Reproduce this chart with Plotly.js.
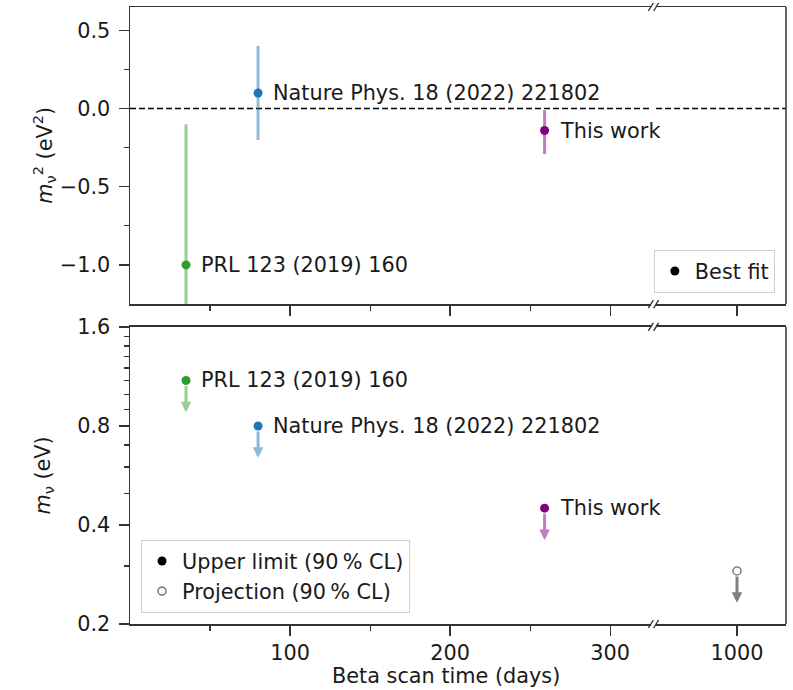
<!DOCTYPE html>
<html>
<head>
<meta charset="utf-8">
<script src="https://cdn.plot.ly/plotly-3.0.1.min.js"></script>
<style>html,body{margin:0;padding:0;background:#fff;}#chart{width:793px;height:690px;}</style>
</head>
<body>
<div id="chart"></div>
<script>
// ---- data ----
const labels = ['PRL 123 (2019) 160', 'Nature Phys. 18 (2022) 221802', 'This work'];
const scanDays = [35, 80, 259];
const colors = ['#2ca02c', '#1f77b4', '#800080'];
const barColors = ['rgba(44,160,44,0.5)', 'rgba(31,119,180,0.5)', 'rgba(128,0,128,0.5)'];
const m2Best = [-1.0, 0.1, -0.14];
const m2ErrUp = [0.9, 0.3, 0.13];
const m2ErrDown = [1.1, 0.3, 0.15];
const mLimit = [1.1, 0.8, 0.45];
const projDays = [1000];
const projLimit = [0.29];
const limitArrowRatio = 0.8;

const xMajor = [100, 200, 300];
const xMinor = [50, 150, 250];
const xBreakTicks = [1000];
const m2Ticks = [-1.0, -0.5, 0.0, 0.5];
const m2TickText = ['\u22121.0', '\u22120.5', '0.0', '0.5'];
const m2Minor = [-0.75, -0.25, 0.25];
const mTicks = [0.2, 0.4, 0.8, 1.6];
const mTickText = ['0.2', '0.4', '0.8', '1.6'];
const mMinor = [0.3, 0.5, 0.6, 0.7, 0.9, 1.0, 1.1, 1.2, 1.3, 1.4, 1.5];

// ---- style ----
const FONT = 'DejaVu Sans, sans-serif';
const TXT = '#1a1a1a';
const SPINE = '#333';
const FS = 20.8;

const traces = [];
for (let i = 0; i < labels.length; i++) {
  traces.push({
    type: 'scatter', mode: 'markers', x: [scanDays[i]], y: [m2Best[i]],
    xaxis: 'x', yaxis: 'y', showlegend: false, hoverinfo: 'skip',
    marker: {color: colors[i], size: 9},
    error_y: {type: 'data', symmetric: false, array: [m2ErrUp[i]], arrayminus: [m2ErrDown[i]],
              color: barColors[i], thickness: 3, width: 0}
  });
  traces.push({
    type: 'scatter', mode: 'markers', x: [scanDays[i]], y: [mLimit[i]],
    xaxis: 'x3', yaxis: 'y2', showlegend: false, hoverinfo: 'skip',
    marker: {color: colors[i], size: 9}
  });
}
traces.push({
  type: 'scatter', mode: 'markers', x: projDays, y: projLimit,
  xaxis: 'x4', yaxis: 'y2', showlegend: false, hoverinfo: 'skip',
  marker: {color: '#ffffff', size: 8, symbol: 'circle', line: {color: '#808080', width: 1.6}}
});
// empty trace so the top-right (break) segment of the upper panel exists as a subplot
traces.push({type: 'scatter', mode: 'markers', x: [null], y: [null], xaxis: 'x2', yaxis: 'y',
  showlegend: false, hoverinfo: 'skip'});
// legend entries
traces.push({type: 'scatter', mode: 'markers', x: [null], y: [null], xaxis: 'x', yaxis: 'y',
  name: 'Best fit', legend: 'legend', marker: {color: '#000', size: 9}});
traces.push({type: 'scatter', mode: 'markers', x: [null], y: [null], xaxis: 'x3', yaxis: 'y2',
  name: 'Upper limit (90\u2009% CL)', legend: 'legend2', marker: {color: '#000', size: 9}});
traces.push({type: 'scatter', mode: 'markers', x: [null], y: [null], xaxis: 'x3', yaxis: 'y2',
  name: 'Projection (90\u2009% CL)', legend: 'legend2',
  marker: {color: '#fff', size: 8, line: {color: '#808080', width: 1.6}}});

const annotations = [];
for (let i = 0; i < labels.length; i++) {
  annotations.push({xref: 'x', yref: 'y', x: scanDays[i], y: m2Best[i], text: labels[i],
    showarrow: false, xanchor: 'left', yanchor: 'middle', xshift: 13,
    font: {family: FONT, size: FS, color: TXT}});
  annotations.push({xref: 'x3', yref: 'y2', x: scanDays[i], y: Math.log10(mLimit[i]), text: labels[i],
    showarrow: false, xanchor: 'left', yanchor: 'middle', xshift: 13,
    font: {family: FONT, size: FS, color: TXT}});
  annotations.push({xref: 'x3', yref: 'y2', x: scanDays[i], y: Math.log10(mLimit[i] * limitArrowRatio),
    axref: 'x3', ayref: 'y2', ax: scanDays[i], ay: Math.log10(mLimit[i]), text: '',
    showarrow: true, arrowhead: 2, arrowsize: 0.7, arrowwidth: 3, arrowcolor: barColors[i],
    startstandoff: 4});
}
for (let j = 0; j < projDays.length; j++) {
  annotations.push({xref: 'x4', yref: 'y2', x: projDays[j], y: Math.log10(projLimit[j] * limitArrowRatio),
    axref: 'x4', ayref: 'y2', ax: projDays[j], ay: Math.log10(projLimit[j]), text: '',
    showarrow: true, arrowhead: 2, arrowsize: 0.7, arrowwidth: 3, arrowcolor: '#808080',
    startstandoff: 4});
}
// axis titles
annotations.push({xref: 'paper', yref: 'paper', x: 0.4817, y: -0.084, xanchor: 'center', yanchor: 'middle',
  showarrow: false, text: 'Beta scan time (days)', font: {family: FONT, size: FS, color: TXT}});
annotations.push({xref: 'paper', yref: 'paper', x: -0.131, y: 0.759, xanchor: 'center', yanchor: 'middle',
  showarrow: false, textangle: -90, text: '<i>m</i><sub>\u03bd</sub><sup>2</sup> (eV<sup>2</sup>)',
  font: {family: FONT, size: FS, color: TXT}});
annotations.push({xref: 'paper', yref: 'paper', x: -0.131, y: 0.2407, xanchor: 'center', yanchor: 'middle',
  showarrow: false, textangle: -90, text: '<i>m</i><sub>\u03bd</sub> (eV)',
  font: {family: FONT, size: FS, color: TXT}});

const shapes = [];
shapes.push({type: 'line', xref: 'x domain', yref: 'y', x0: 0, x1: 1, y0: 0, y1: 0,
  line: {color: '#000', width: 1.5, dash: '6px,3px'}, layer: 'below'});
shapes.push({type: 'line', xref: 'x2 domain', yref: 'y', x0: 0, x1: 1, y0: 0, y1: 0,
  line: {color: '#000', width: 1.5, dash: '6px,3px'}, layer: 'below'});
// right borders
shapes.push({type: 'line', xref: 'paper', yref: 'y domain', x0: 1, x1: 1, y0: 0, y1: 1,
  line: {color: SPINE, width: 1.5}});
shapes.push({type: 'line', xref: 'paper', yref: 'y2 domain', x0: 1, x1: 1, y0: 0, y1: 1,
  line: {color: SPINE, width: 1.5}});
// break marks
const breakX = [0.794, 0.802];
const breakY = [['y domain', 0], ['y domain', 1], ['y2 domain', 0], ['y2 domain', 1]];
breakX.forEach(bx => breakY.forEach(([yr, by]) => {
  shapes.push({type: 'line', xref: 'paper', yref: yr, xsizemode: 'pixel', ysizemode: 'pixel',
    xanchor: bx, yanchor: by, x0: -2.5, x1: 2.5, y0: -4, y1: 4,
    line: {color: SPINE, width: 1.4}});
}));

const tickFont = {family: FONT, size: FS, color: TXT};
function xAxis(dom, anchor, range, vals, minorVals, showLabels) {
  const ax = {domain: dom, anchor: anchor, range: range, tickmode: 'array', tickvals: vals,
    showticklabels: showLabels, ticks: 'outside', ticklen: 10, tickwidth: 1.3, tickcolor: SPINE,
    showline: true, mirror: true, linecolor: SPINE, linewidth: 1.5, showgrid: false, zeroline: false,
    tickfont: tickFont, fixedrange: true};
  if (minorVals) ax.minor = {tickmode: 'array', tickvals: minorVals, ticks: 'outside', ticklen: 5,
    tickwidth: 1.2, tickcolor: SPINE, showgrid: false};
  return ax;
}

const layout = {
  width: 793, height: 690,
  margin: {l: 130, r: 7, t: 7, b: 66},
  paper_bgcolor: '#fff', plot_bgcolor: '#fff',
  font: {family: FONT, size: FS, color: TXT},
  xaxis: xAxis([0, 0.794], 'y', [0, 325.4], xMajor, xMinor, false),
  xaxis2: xAxis([0.802, 1], 'y', [949.3, 1030.7], xBreakTicks, null, false),
  xaxis3: xAxis([0, 0.794], 'y2', [0, 325.4], xMajor, xMinor, true),
  xaxis4: xAxis([0.802, 1], 'y2', [949.3, 1030.7], xBreakTicks, null, true),
  yaxis: {domain: [0.5186, 1], anchor: 'x', range: [-1.25, 0.65], tickmode: 'array',
    tickvals: m2Ticks, ticktext: m2TickText, ticks: 'outside', ticklen: 10, tickwidth: 1.3,
    tickcolor: SPINE, showline: true, linecolor: SPINE, linewidth: 1.5, showgrid: false,
    zeroline: false, tickfont: tickFont, ticklabelstandoff: 4, fixedrange: true,
    minor: {tickmode: 'array', tickvals: m2Minor, ticks: 'outside', ticklen: 5, tickwidth: 1.2,
      tickcolor: SPINE, showgrid: false}},
  yaxis2: {domain: [0, 0.4814], anchor: 'x3', type: 'log',
    range: [Math.log10(mTicks[0]), Math.log10(mTicks[mTicks.length - 1])], tickmode: 'array',
    tickvals: mTicks, ticktext: mTickText, ticks: 'outside', ticklen: 10, tickwidth: 1.3,
    tickcolor: SPINE, showline: true, linecolor: SPINE, linewidth: 1.5, showgrid: false,
    zeroline: false, tickfont: tickFont, ticklabelstandoff: 4, fixedrange: true,
    minor: {tickmode: 'array', tickvals: mMinor, ticks: 'outside', ticklen: 5, tickwidth: 1.2,
      tickcolor: SPINE, showgrid: false}},
  legend: {x: 0.983, y: 0.5365, xref: 'paper', yref: 'paper', xanchor: 'right', yanchor: 'bottom',
    bgcolor: 'rgba(255,255,255,0.85)', bordercolor: '#d0d0d0', borderwidth: 1,
    font: {family: FONT, size: FS, color: TXT}},
  legend2: {x: 0.0168, y: 0.0178, xref: 'paper', yref: 'paper', xanchor: 'left', yanchor: 'bottom',
    bgcolor: 'rgba(255,255,255,0.85)', bordercolor: '#d0d0d0', borderwidth: 1,
    font: {family: FONT, size: FS, color: TXT}, tracegroupgap: 0},
  showlegend: true,
  annotations: annotations,
  shapes: shapes
};

Plotly.newPlot('chart', traces, layout, {displayModeBar: false, staticPlot: true});
</script>
</body>
</html>
